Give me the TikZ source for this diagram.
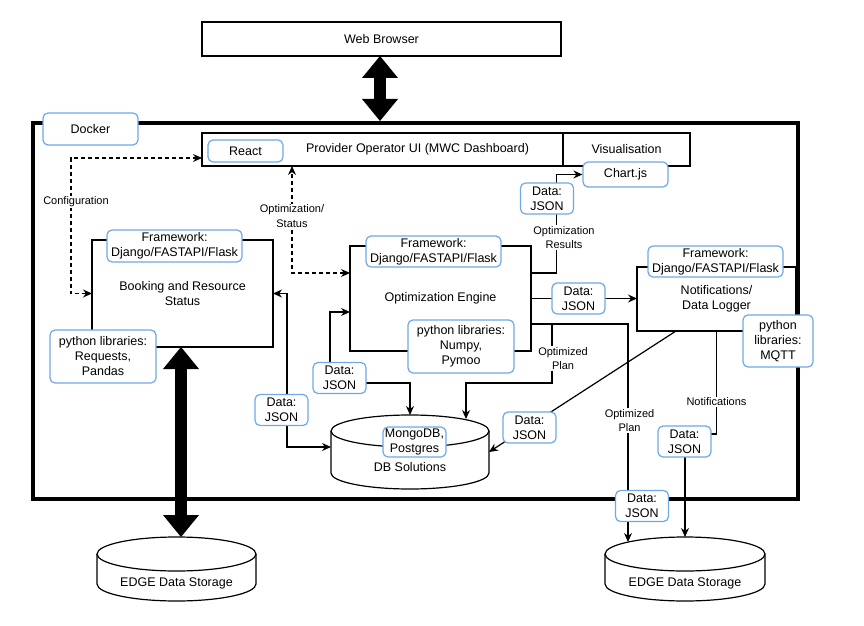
\documentclass[tikz,border=0pt]{standalone}
\usepackage{fontspec}
\setmainfont{Liberation Sans}
\usepackage{tikz}
\usetikzlibrary{positioning}
\usetikzlibrary{arrows.meta}
\usetikzlibrary{calc}
\definecolor{tagblue}{RGB}{110,168,232}
\tikzset{unit/.style={draw,line width=1.2pt,outer sep=0pt,align=center},
  tag/.style={draw=tagblue,fill=white,rounded corners=5pt,line width=1.2pt,align=center,inner sep=1pt},
  lbl/.style={fill=white,align=center,inner sep=1pt,font=\fontsize{11}{14.5}\selectfont},
  store/.style={outer sep=0pt,inner sep=0pt},
  dashline/.style={dash pattern=on 4pt off 3pt},
  bigarrow/.style={line width=12pt,{Triangle[width=36pt,length=22pt,line width=0pt]}-{Triangle[width=36pt,length=22pt,line width=0pt]}},}

\begin{document}
\begin{tikzpicture}[x=1pt, y=1pt, >={Stealth[length=9pt,width=8pt]}, line width=1.2pt, font=\fontsize{12.5}{15}\selectfont]
	\useasboundingbox (0,0) rectangle (864,625);
	% frame and blocks
	\node[unit, line width=3.5pt, minimum width=765pt, minimum height=376pt] (docker) at (415.5,314) {};
	\node[unit, minimum width=359pt, minimum height=34pt] (browser) at (381.5,586) {Web Browser};
	\node[unit, minimum width=361pt, minimum height=33pt] (ui) at (382.5,475.5) {};
	\node[unit, minimum width=127pt, minimum height=33pt, right=0pt of ui] (vis) {Visualisation};
	\node (uitext) at (417.5,475.5) {Provider Operator UI (MWC Dashboard)};
	\node[unit, minimum width=181pt, minimum height=107pt] (booking) at (182.5,331.5) {Booking and Resource\\Status};
	\node[unit, minimum width=181pt, minimum height=105pt] (opt) at (440.5,326.5) {Optimization Engine};
	\node[unit, minimum width=159pt, minimum height=64pt] (notif) at (716.5,326) {Notifications/\\Data Logger};
	\node[tag, minimum width=85pt, minimum height=25pt] (chart) at (625.5,450.5) {Chart.js};

	% storages
	\node[store, minimum width=158pt, minimum height=74pt] (db) at (410,173) {};
	\node[store, minimum width=159pt, minimum height=64pt] (edgeL) at (176.5,56) {};
	\node[store, minimum width=160pt, minimum height=64pt] (edgeR) at (685,56) {};
	\foreach \s/\rx/\ry/\h in {db/79/16/42, edgeL/79.5/17/30, edgeR/80/17/30} {
		\draw (\s.north west) ++(0,-\ry) -- ++(0,-\h) arc[start angle=180, end angle=360, x radius=\rx, y radius=\ry] -- ++(0,\h);
		\draw (\s.north) ++(0,-\ry) ellipse[x radius=\rx, y radius=\ry];
	}
	\node (dbtext) at ([yshift=22pt]db.south) {DB Solutions};
	\node (edgeLtext) at ([yshift=18pt]edgeL.south) {EDGE Data Storage};
	\node (edgeRtext) at ([yshift=18pt]edgeR.south) {EDGE Data Storage};

	% connectors
	\draw[bigarrow] ([xshift=-1.5pt]browser.south) -- ([xshift=-1.5pt,yshift=2pt]browser.south |- docker.north);
	\draw[bigarrow] ([xshift=-1.5pt]booking.south) -- ([xshift=-1.5pt]booking.south |- edgeL.north);
	\draw[<->, dashline] (booking.west) -- ++(-21,0) |- ([yshift=-8.5pt]ui.west);
	\draw[<->, dashline] ([yshift=25.5pt]opt.west) -- ++(-58,0) -- ([xshift=-90.5pt]ui.south);
	\draw[<->] (booking.east) -- ++(14,0) |- ([yshift=5pt]db.west);
	\draw[<->] ([yshift=-13.5pt]opt.west) -- ++(-20,0) |- ([yshift=32pt]db.north) -- (db.north);
	\draw[->] ([yshift=25.5pt]opt.east) -| ([xshift=-26pt]chart.west) -- (chart.west);
	\draw[->] (opt.east) -- (opt.east -| notif.west);
	\draw[->] ([yshift=-25.5pt]opt.east) -- ++(21,0) |- ([xshift=56pt,yshift=32pt]db.north) -- ([xshift=56pt,yshift=-4pt]db.north);
	\draw[->] ([yshift=-25.5pt]opt.east) -| ([xshift=-57pt,yshift=-5pt]edgeR.north);
	\draw[->] ([xshift=-40.5pt]notif.south) -- (db.east);
	\draw[->] (notif.south) |- ([yshift=103pt]edgeR.north) -- (edgeR.north);

	% tags
	\node[tag, minimum width=95pt, minimum height=32pt] (dockertag) at (90.5,496) {Docker};
	\node[tag, minimum width=75pt, minimum height=22pt] (react) at (245.5,474) {React};
	\node[tag, minimum width=135pt, minimum height=32pt] (bookfw) at (174.5,379) {Framework:\\Django/FASTAPI/Flask};
	\node[tag, minimum width=106pt, minimum height=53pt] (booklib) at (103,268.5) {python libraries:\\Requests,\\Pandas};
	\node[tag, minimum width=135pt, minimum height=31pt] (optfw) at (433.5,373.5) {Framework:\\Django/FASTAPI/Flask};
	\node[tag, minimum width=106pt, minimum height=53pt] (optlib) at (461,278.5) {python libraries:\\Numpy,\\Pymoo};
	\node[tag, minimum width=135pt, minimum height=31pt] (notiffw) at (715.5,363.5) {Framework:\\Django/FASTAPI/Flask};
	\node[tag, minimum width=70pt, minimum height=52pt] (mqtt) at (778,284) {python\\libraries:\\MQTT};
	\node[tag, minimum width=63pt, minimum height=30pt] (mongo) at (414.5,183) {MongoDB,\\Postgres};
	\foreach \n/\x/\y in {datachart/547/426.5, datanotif/578.5/326.5, databook/281.5/215, dataopt/339.5/247, datadb/529.5/197.5, dataedge/642/119, datanote/684.5/183.5}
		\node[tag, minimum width=53pt, minimum height=31pt] (\n) at (\x,\y) {Data:\\JSON};

	% labels
	\node[lbl] (cfg) at (76,423) {Configuration};
	\node[lbl] (optstat) at (292,409) {Optimization/\\Status};
	\node[lbl] (optres) at (564,387.5) {Optimization\\Results};
	\node[lbl] (plan1) at (563,266.5) {Optimized\\Plan};
	\node[lbl] (plan2) at (629.5,204.5) {Optimized\\Plan};
	\node[lbl] (notes) at (716.5,223) {Notifications};
\end{tikzpicture}
\end{document}
